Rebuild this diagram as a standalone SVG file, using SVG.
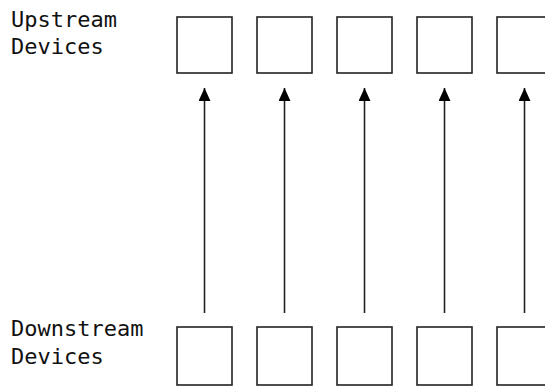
<svg xmlns="http://www.w3.org/2000/svg" width="545" height="388" viewBox="0 0 545 388">
<style>
.box{fill:#fff;stroke:#222;stroke-width:1.6}
.lbl{font-family:"DejaVu Sans Mono",monospace;font-size:22px;fill:#111}
.con{stroke:#222;stroke-width:1.6;fill:none}
</style>
<defs>
<marker id="ah" markerUnits="userSpaceOnUse" markerWidth="13" markerHeight="12" refX="13" refY="6" orient="auto" viewBox="0 0 13 12">
<path d="M0,0 L13,6 L0,12 Z" fill="#000"/>
</marker>
</defs>
<g id="label-upstream"><text class="lbl" x="11" y="27">Upstream</text><text class="lbl" x="11" y="54">Devices</text></g>
<g id="label-downstream"><text class="lbl" x="11" y="336">Downstream</text><text class="lbl" x="11" y="364">Devices</text></g>
<g id="up1"><rect class="box" x="177" y="17" width="55" height="56"/></g>
<g id="up2"><rect class="box" x="257" y="17" width="55" height="56"/></g>
<g id="up3"><rect class="box" x="337" y="17" width="55" height="56"/></g>
<g id="up4"><rect class="box" x="417" y="17" width="55" height="56"/></g>
<g id="up5"><rect class="box" x="497" y="17" width="55" height="56"/></g>
<g id="down1"><rect class="box" x="177" y="327" width="55" height="58"/></g>
<g id="down2"><rect class="box" x="257" y="327" width="55" height="58"/></g>
<g id="down3"><rect class="box" x="337" y="327" width="55" height="58"/></g>
<g id="down4"><rect class="box" x="417" y="327" width="55" height="58"/></g>
<g id="down5"><rect class="box" x="497" y="327" width="55" height="58"/></g>
<g id="connectors">
<line class="con" x1="204.5" y1="313" x2="204.5" y2="88" marker-end="url(#ah)"/>
<line class="con" x1="284.5" y1="313" x2="284.5" y2="88" marker-end="url(#ah)"/>
<line class="con" x1="364.5" y1="313" x2="364.5" y2="88" marker-end="url(#ah)"/>
<line class="con" x1="444.5" y1="313" x2="444.5" y2="88" marker-end="url(#ah)"/>
<line class="con" x1="524.5" y1="313" x2="524.5" y2="88" marker-end="url(#ah)"/>
</g>
</svg>
